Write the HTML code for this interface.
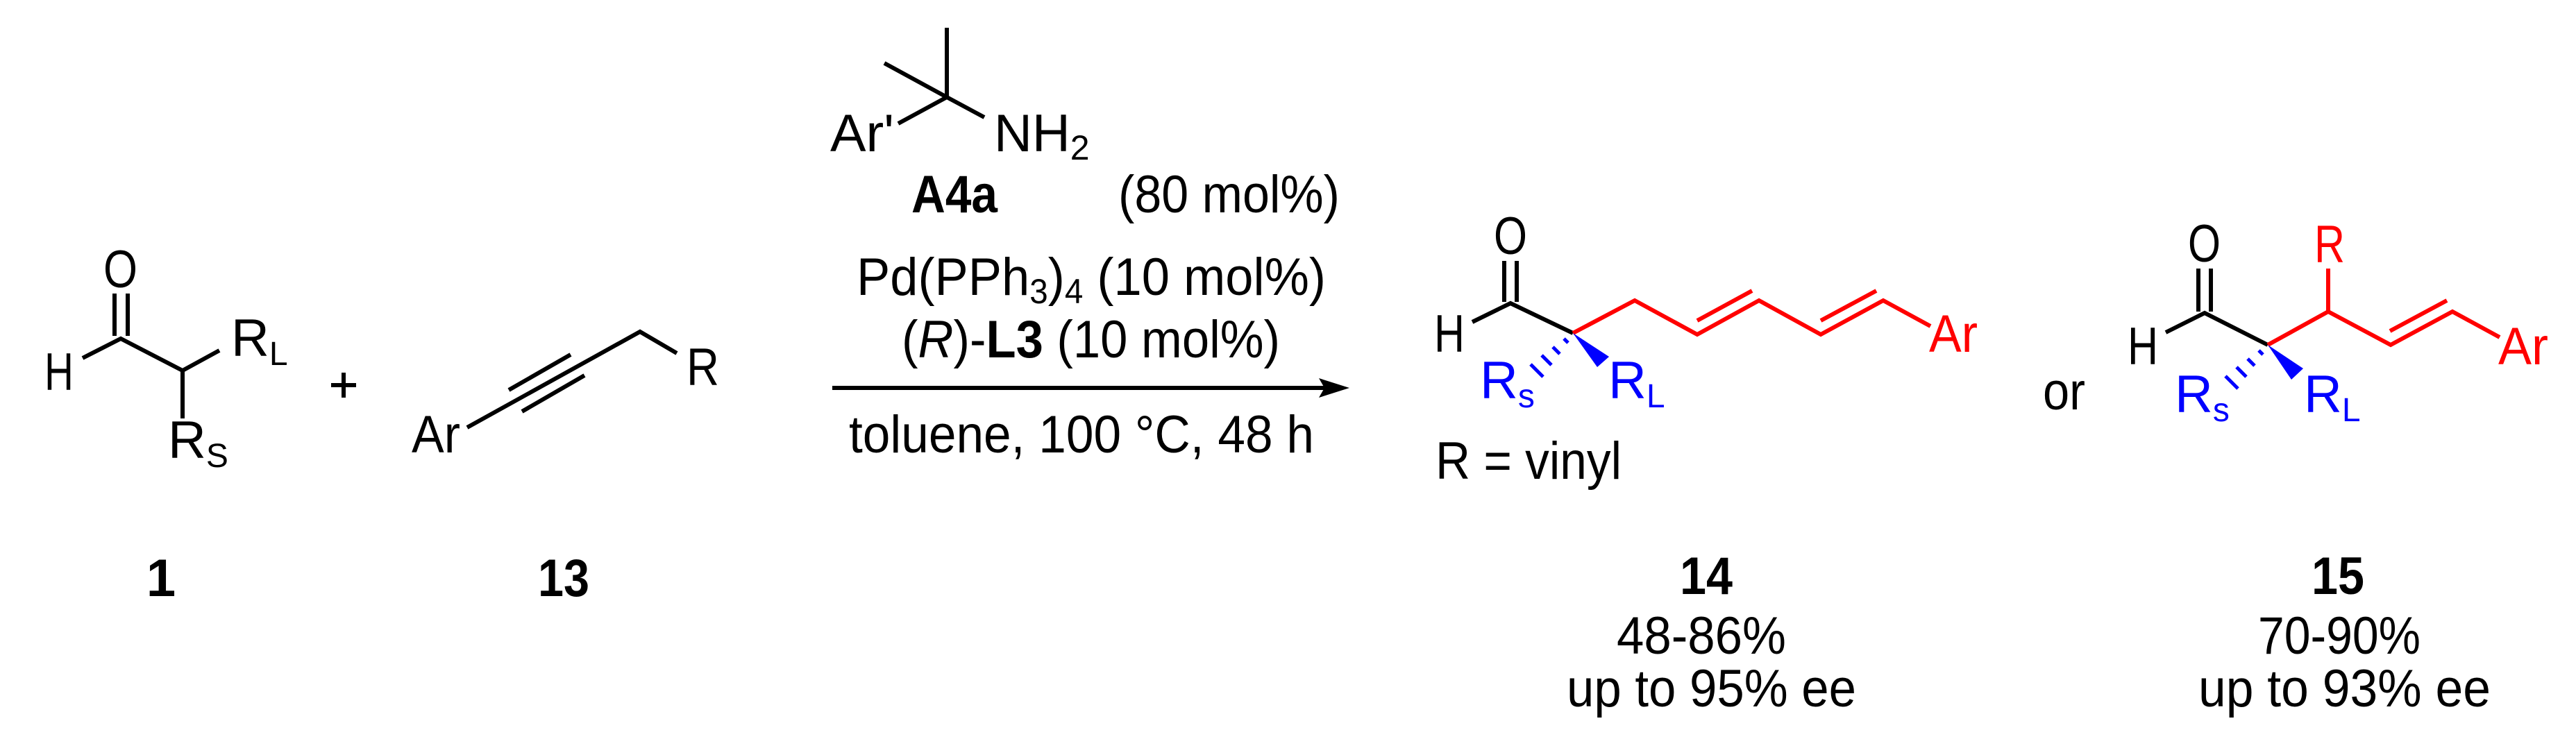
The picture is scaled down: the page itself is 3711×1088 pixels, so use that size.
<!DOCTYPE html>
<html><head><meta charset="utf-8"><style>html,body{margin:0;padding:0;background:#fff;}svg{display:block}</style></head>
<body>
<svg width="3711" height="1088" viewBox="0 0 3711 1088" xmlns="http://www.w3.org/2000/svg" font-family="Liberation Sans, Arial, sans-serif" font-size="76">
<rect width="3711" height="1088" fill="#fff"/>
<g stroke="#000" stroke-width="6" fill="none" stroke-linecap="butt">
  <line x1="165" y1="423" x2="165" y2="484"/>
  <line x1="184" y1="423" x2="184" y2="484"/>
  <polyline points="119,516 174,488 263,534 316,505"/>
  <line x1="263" y1="534" x2="263" y2="603"/>
  <line x1="477" y1="555" x2="513" y2="555"/>
  <line x1="495" y1="537" x2="495" y2="573"/>
  <polyline points="673,616 922,478 975,509"/>
  <line x1="733" y1="562" x2="822" y2="511"/>
  <line x1="752" y1="593" x2="842" y2="541"/>
  <line x1="1364" y1="40" x2="1364" y2="140"/>
  <line x1="1274" y1="91" x2="1364" y2="140"/>
  <line x1="1294" y1="178" x2="1364" y2="140"/>
  <line x1="1418" y1="169" x2="1364" y2="140"/>
  <line x1="1199" y1="559" x2="1910" y2="559"/>
  <line x1="2167" y1="376" x2="2167" y2="435"/>
  <line x1="2185" y1="376" x2="2185" y2="435"/>
  <polyline points="2121,464 2176,437 2266,480"/>
  <line x1="3167" y1="387" x2="3167" y2="449"/>
  <line x1="3185" y1="387" x2="3185" y2="449"/>
  <polyline points="3120,479 3176,451 3267,497"/>
</g>
<polygon points="1944,559 1900,545 1908,559 1900,573" fill="#000"/>
<g stroke="#f00" stroke-width="6" fill="none">
  <polyline points="2266,480 2355,433 2445,482 2534,433 2623,482 2713,433 2781,470"/>
  <line x1="2445" y1="462" x2="2524" y2="419"/>
  <line x1="2623" y1="462" x2="2703" y2="419"/>
  <polyline points="3267,497 3354,449 3444,497 3533,449 3601,486"/>
  <line x1="3354" y1="449" x2="3354" y2="387"/>
  <line x1="3443" y1="477" x2="3525" y2="433"/>
</g>
<g stroke="#00f" stroke-width="5" fill="none">
  <line x1="2253" y1="488" x2="2259" y2="494"/>
  <line x1="2237" y1="500" x2="2247" y2="510"/>
  <line x1="2221" y1="512" x2="2235" y2="526"/>
  <line x1="2205" y1="525" x2="2223" y2="543"/>
  <line x1="3254" y1="505" x2="3260" y2="511"/>
  <line x1="3238" y1="517" x2="3248" y2="527"/>
  <line x1="3222" y1="529" x2="3236" y2="543"/>
  <line x1="3206" y1="542" x2="3224" y2="560"/>
</g>
<polygon points="2266,480 2301,529 2318,514" fill="#00f"/>
<polygon points="3267,497 3301,547 3318,531" fill="#00f"/>

<text x="149" y="414" textLength="49" lengthAdjust="spacingAndGlyphs">O</text>
<text x="64" y="562" textLength="42" lengthAdjust="spacingAndGlyphs">H</text>
<text x="333" y="513">R<tspan font-size="48" dy="13">L</tspan></text>
<text x="242" y="660">R<tspan font-size="48" dy="13">S</tspan></text>
<text x="232" y="859" font-weight="bold" text-anchor="middle">1</text>
<text x="593" y="652" textLength="70" lengthAdjust="spacingAndGlyphs">Ar</text>
<text x="989" y="555" textLength="47" lengthAdjust="spacingAndGlyphs">R</text>
<text x="775" y="859" font-weight="bold" textLength="74" lengthAdjust="spacingAndGlyphs">13</text>
<text x="1196" y="218" textLength="92" lengthAdjust="spacingAndGlyphs">Ar'</text>
<text x="1432" y="218">NH<tspan font-size="50" dy="12">2</tspan></text>
<text x="1313" y="306" font-weight="bold" textLength="124" lengthAdjust="spacingAndGlyphs">A4a</text>
<text x="1611" y="306" textLength="319" lengthAdjust="spacingAndGlyphs">(80 mol%)</text>
<text x="1234" y="425" textLength="676" lengthAdjust="spacingAndGlyphs">Pd(PPh<tspan font-size="50" dy="12">3</tspan><tspan dy="-12">)</tspan><tspan font-size="50" dy="12">4</tspan><tspan dy="-12"> (10 mol%)</tspan></text>
<text x="1299" y="515" textLength="545" lengthAdjust="spacingAndGlyphs">(<tspan font-style="italic">R</tspan>)-<tspan font-weight="bold">L3</tspan> (10 mol%)</text>
<text x="1223" y="652" textLength="670" lengthAdjust="spacingAndGlyphs">toluene, 100 °C, 48 h</text>
<text x="2152" y="366" textLength="48" lengthAdjust="spacingAndGlyphs">O</text>
<text x="2066" y="507" textLength="44" lengthAdjust="spacingAndGlyphs">H</text>
<text x="2779" y="507" fill="#f00" textLength="70" lengthAdjust="spacingAndGlyphs">Ar</text>
<text x="2132" y="574" fill="#00f">R<tspan font-size="48" dy="13">s</tspan></text>
<text x="2317" y="574" fill="#00f">R<tspan font-size="48" dy="13">L</tspan></text>
<text x="2068" y="690" textLength="268" lengthAdjust="spacingAndGlyphs">R = vinyl</text>
<text x="2943" y="590" textLength="61" lengthAdjust="spacingAndGlyphs">or</text>
<text x="3152" y="377" textLength="47" lengthAdjust="spacingAndGlyphs">O</text>
<text x="3065" y="525" textLength="44" lengthAdjust="spacingAndGlyphs">H</text>
<text x="3334" y="378" fill="#f00" textLength="44" lengthAdjust="spacingAndGlyphs">R</text>
<text x="3599" y="525" fill="#f00" textLength="72" lengthAdjust="spacingAndGlyphs">Ar</text>
<text x="3133" y="594" fill="#00f">R<tspan font-size="48" dy="13">s</tspan></text>
<text x="3319" y="594" fill="#00f">R<tspan font-size="48" dy="13">L</tspan></text>
<text x="2420" y="856" font-weight="bold" textLength="76" lengthAdjust="spacingAndGlyphs">14</text>
<text x="2329" y="942" textLength="244" lengthAdjust="spacingAndGlyphs">48-86%</text>
<text x="2257" y="1018" textLength="417" lengthAdjust="spacingAndGlyphs">up to 95% ee</text>
<text x="3330" y="856" font-weight="bold" textLength="76" lengthAdjust="spacingAndGlyphs">15</text>
<text x="3253" y="942" textLength="234" lengthAdjust="spacingAndGlyphs">70-90%</text>
<text x="3167" y="1018" textLength="421" lengthAdjust="spacingAndGlyphs">up to 93% ee</text>
</svg>
</body></html>
